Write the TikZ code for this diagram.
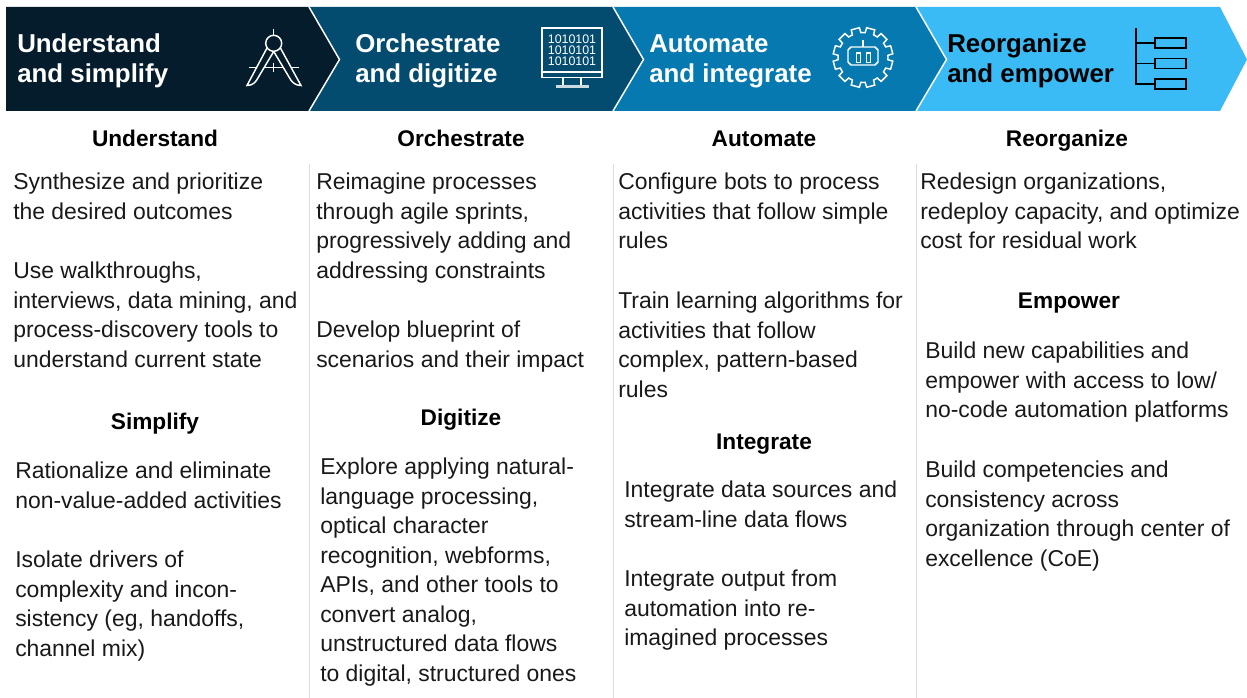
\documentclass[tikz,border=0pt]{standalone}
\usepackage{fontspec}
\setmainfont{Liberation Sans}
\usepackage{xcolor}
\definecolor{bandeA}{HTML}{051C2C}
\definecolor{bandeB}{HTML}{034B6F}
\definecolor{bandeC}{HTML}{0679B1}
\definecolor{bandeD}{HTML}{3BBBF5}
\definecolor{filet}{HTML}{DDDDDD}
\begin{document}
\begin{tikzpicture}[x=0.75pt,y=-0.75pt]
% Styles
\tikzstyle{titre}=[anchor=north west,inner sep=0,align=left,font=\fontsize{19.4}{22.5}\selectfont\bfseries]
\tikzstyle{soustitre}=[anchor=base,inner sep=0,font=\fontsize{17}{20}\selectfont\bfseries]
\tikzstyle{corps}=[anchor=north west,inner sep=0,align=left,font=\fontsize{17.2}{22.1}\selectfont,text=black!90]
\tikzstyle{separation}=[white,line width=1.1pt,line join=miter]
\tikzstyle{trait}=[line width=1.1pt,line join=miter]
\tikzstyle{colonne}=[filet,line width=0.75pt]
% Dimensions
\def\Haut{7}
\def\Bas{111}
\def\Milieu{59.5}
\def\Pointe{30.5}
\useasboundingbox (0,0) rectangle (1247,698);
% Bandeau
\fill[bandeD] (916,\Haut)--(1220,\Haut)--(1247,\Milieu)--(1220,\Bas)--(916,\Bas)--cycle;
\fill[bandeC] (613,\Haut)--(916,\Haut)--(916+\Pointe,\Milieu)--(916,\Bas)--(613,\Bas)--cycle;
\fill[bandeB] (309,\Haut)--(613,\Haut)--(613+\Pointe,\Milieu)--(613,\Bas)--(309,\Bas)--cycle;
\fill[bandeA] (6,\Haut)--(309,\Haut)--(309+\Pointe,\Milieu)--(309,\Bas)--(6,\Bas)--cycle;
\draw[separation] (309,\Haut)--(309+\Pointe,\Milieu)--(309,\Bas);
\draw[separation] (613,\Haut)--(613+\Pointe,\Milieu)--(613,\Bas);
\draw[separation] (916,\Haut)--(916+\Pointe,\Milieu)--(916,\Bas);
% Filets
\draw[colonne] (309.5,164)--(309.5,698);
\draw[colonne] (613.5,164)--(613.5,698);
\draw[colonne] (916.5,164)--(916.5,698);
% Titres du bandeau
\node[titre,text=white] (TitreA) at (17,33) {Understand\\and simplify};
\node[titre,text=white] (TitreB) at (355,33) {Orchestrate\\and digitize};
\node[titre,text=white] (TitreC) at (649,34) {Automate\\and integrate};
\node[titre,text=black] (TitreD) at (947,33) {Reorganize\\and empower};
% Icone compas
\begin{scope}[white,trait]
\draw (273.7,29)--(273.7,35);
\draw (273.7,43.3) circle (8);
\draw (267,48)--(247,85.5) .. controls (253,85.5) and (256,82) .. (258.5,77)--(273.7,51.5);
\draw (280.4,48)--(301,85.5) .. controls (295,85.5) and (291.5,82) .. (289,77)--(273.7,51.5);
\draw (249,67.7)--(256.5,67.7);
\draw (264,67.7)--(283.5,67.7);
\draw (291,67.7)--(299,67.7);
\draw (273.7,63)--(273.7,72);
\end{scope}
% Icone ecran
\begin{scope}[white,trait]
\draw (542,28) rectangle (602,77.5);
\draw (542,72)--(602,72);
\draw (563,77.5)--(563,86);
\draw (581,77.5)--(581,86);
\fill[white!80!bandeB] (555.5,85) rectangle (589,88.5);
\end{scope}
\node[anchor=center,inner sep=0,text=white,align=center,font=\fontsize{9.3}{8.2}\selectfont] (Binaire) at (572,50) {1010101\\1010101\\1010101};
% Icone engrenage
\begin{scope}[white,trait,shift={(863,57.5)}]
\draw (0:25) \foreach \a in {0,30,...,330} {
  --(\a+5:25)--(\a+7:30)--(\a+23:30)--(\a+25:25)--(\a+30:25)} --cycle;
\draw (-12,-10.5)--(12,-10.5)--(15,-7.5)--(15,4.5)--(12,7.5)--(-12,7.5)--(-15,4.5)--(-15,-7.5)--cycle;
\draw (0,-17.5)--(0,-10.5);
\draw (-6.5,-4.5) rectangle (-2.5,5);
\draw (3.5,-4.5) rectangle (7.5,5);
\end{scope}
% Icone organigramme
\begin{scope}[black,trait]
\draw (1136,28)--(1136,84)--(1155,84);
\draw (1136,43)--(1155,43);
\draw (1136,63.5)--(1155,63.5);
\draw (1155,38) rectangle (1186,48);
\draw (1155,58.5) rectangle (1186,68.5);
\draw (1155,79) rectangle (1186,89);
\end{scope}
% Colonne 1
\node[soustitre] (Understand) at (155,147) {Understand};
\node[corps] (UnA) at (13,173) {Synthesize and prioritize\\the desired outcomes};
\node[corps] (UnB) at (13,262) {Use walkthroughs,\\interviews, data mining, and\\process-discovery tools to\\understand current state};
\node[soustitre] (Simplify) at (155,430) {Simplify};
\node[corps] (SiA) at (15,462) {Rationalize and eliminate\\non-value-added activities};
\node[corps] (SiB) at (15,551) {Isolate drivers of\\complexity and incon-\\sistency (eg, handoffs,\\channel mix)};
% Colonne 2
\node[soustitre] (Orchestrate) at (461,147) {Orchestrate};
\node[corps] (OrA) at (316,173) {Reimagine processes\\through agile sprints,\\progressively adding and\\addressing constraints};
\node[corps] (OrB) at (316,321) {Develop blueprint of\\scenarios and their impact};
\node[soustitre] (Digitize) at (461,426) {Digitize};
\node[corps] (DiA) at (320,458) {Explore applying natural-\\language processing,\\optical character\\recognition, webforms,\\APIs, and other tools to\\convert analog,\\unstructured data flows\\to digital, structured ones};
% Colonne 3
\node[soustitre] (Automate) at (764,147) {Automate};
\node[corps] (AuA) at (618,173) {Configure bots to process\\activities that follow simple\\rules};
\node[corps] (AuB) at (618,292) {Train learning algorithms for\\activities that follow\\complex, pattern-based\\rules};
\node[soustitre] (Integrate) at (764,450) {Integrate};
\node[corps] (InA) at (624,481) {Integrate data sources and\\stream-line data flows};
\node[corps] (InB) at (624,570) {Integrate output from\\automation into re-\\imagined processes};
% Colonne 4
\node[soustitre] (Reorganize) at (1067,147) {Reorganize};
\node[corps] (ReA) at (920,173) {Redesign organizations,\\redeploy capacity, and optimize\\cost for residual work};
\node[soustitre] (Empower) at (1069,309) {Empower};
\node[corps] (EmA) at (925,342) {Build new capabilities and\\empower with access to low/\\no-code automation platforms};
\node[corps] (EmB) at (925,461) {Build competencies and\\consistency across\\organization through center of\\excellence (CoE)};
\end{tikzpicture}
\end{document}
